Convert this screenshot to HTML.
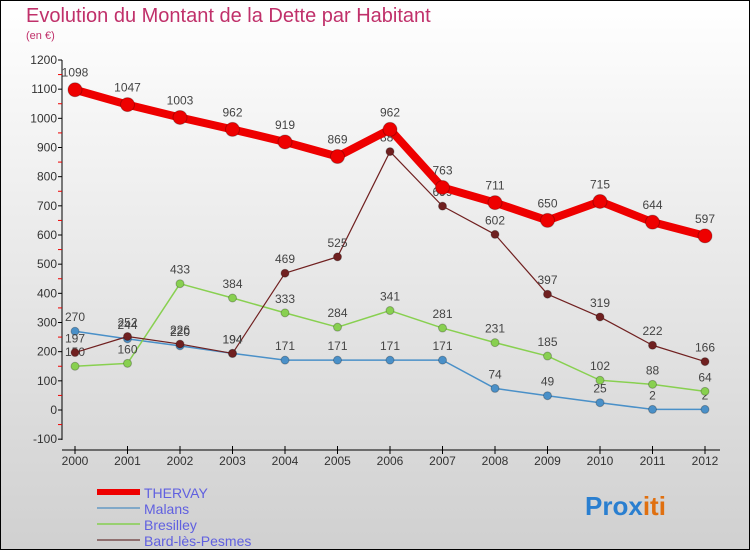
<!DOCTYPE html>
<html><head><meta charset="utf-8"><style>
body{margin:0;width:750px;height:550px;overflow:hidden}
svg{display:block;font-family:"Liberation Sans",sans-serif}
</style></head><body>
<svg width="750" height="550">
<defs><linearGradient id="bg" x1="0" y1="0" x2="0" y2="1"><stop offset="0" stop-color="#ffffff"/><stop offset="1" stop-color="#d0d0d0"/></linearGradient></defs>
<rect x="0.5" y="0.5" width="749" height="549" fill="url(#bg)" stroke="#000"/>
<text x="26" y="22" font-size="20" fill="#c0306a">Evolution du Montant de la Dette par Habitant</text>
<text x="26" y="39" font-size="11" fill="#c0306a">(en €)</text>
<g id="axes"></g><g id="series"></g><g id="legend"></g>
<text x="585" y="515" font-size="26" font-weight="bold"><tspan fill="#2a7fd0">Pro</tspan><tspan fill="#2a7fd0">x</tspan><tspan fill="#e07010">iti</tspan></text>
</svg>
<script>
const years=[2000,2001,2002,2003,2004,2005,2006,2007,2008,2009,2010,2011,2012];
const yTicks=[-100,0,100,200,300,400,500,600,700,800,900,1000,1100,1200];
const thervay=[1098,1047,1003,962,919,869,962,763,711,650,715,644,597];
const malans=[270,244,220,194,171,171,171,171,74,49,25,2,2];
const bresilley=[150,160,433,384,333,284,341,281,231,185,102,88,64];
const bard=[197,252,226,194,469,525,886,699,602,397,319,222,166];
const NS="http://www.w3.org/2000/svg";
const X=i=>75+i*52.5, Y=v=>410-v*0.29167;
function mk(t,a,p){const e=document.createElementNS(NS,t);for(const k in a)e.setAttribute(k,a[k]);p.appendChild(e);return e;}
const ax=document.getElementById('axes');
let yl=mk('line',{x1:62,y1:60,x2:62,y2:440,stroke:'#000'},ax);


let xl=mk('line',{x1:62,y1:450,x2:720,y2:450,stroke:'#000'},ax);


yTicks.forEach(v=>{mk('line',{x1:58,y1:Y(v),x2:62,y2:Y(v),stroke:'#000'},ax);
 if(v<1200)mk('line',{x1:58,y1:Y(v+50),x2:62,y2:Y(v+50),stroke:'#e00'},ax);
 const t=mk('text',{x:57,y:Y(v)+4,'font-size':12,'text-anchor':'end',fill:'#333'},ax);t.textContent=v;
 
 });
years.forEach((y,i)=>{mk('line',{x1:X(i),y1:446,x2:X(i),y2:454,stroke:'#000'},ax);
 const t=mk('text',{x:X(i),y:465,'font-size':12,'text-anchor':'middle',fill:'#333'},ax);t.textContent=y;
 
 });
const S=document.getElementById('series');
function draw(vals,color,w,r,name){const g=mk('g',{},S);
 
 
 mk('polyline',{points:vals.map((v,i)=>X(i)+','+Y(v)).join(' '),fill:'none',stroke:color,'stroke-width':w,'stroke-linejoin':'round'},g);
 vals.forEach((v,i)=>{const c=mk('circle',{cx:X(i),cy:Y(v),r:r,fill:color,stroke:'rgba(0,0,0,0.25)'},g);
  
  
  const t=mk('text',{x:X(i),y:Y(v)-(r+6),'font-size':12,'text-anchor':'middle',fill:'#444'},g);t.textContent=v;});}
draw(malans,'#4a90c8',1.5,4,'malans');
draw(bresilley,'#88d050',1.5,4,'bresilley');
draw(bard,'#702020',1.2,4,'bard-les-pesmes');
draw(thervay,'#ee0000',8,7,'thervay');
const L=document.getElementById('legend');
[['THERVAY','#ee0000',6],['Malans','#80a8c8',2],['Bresilley','#98d070',2],['Bard-lès-Pesmes','#907070',2]].forEach((d,i)=>{
 const y=492+i*16;const g=mk('g',{},L);
 
 
 mk('line',{x1:97,y1:y,x2:140,y2:y,stroke:d[1],'stroke-width':d[2]},g);
 const t=mk('text',{x:144,y:y+6,'font-size':14,fill:'#6060e0'},g);t.textContent=d[0];});
</script>
</body></html>
